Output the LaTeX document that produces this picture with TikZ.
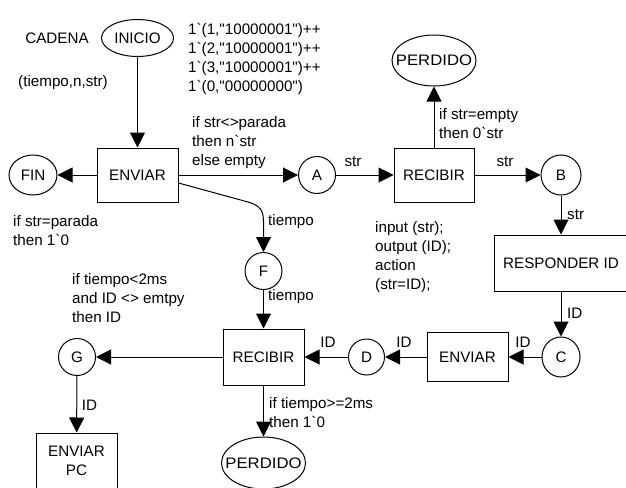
\documentclass[tikz,border=0pt]{standalone}
\usepackage{fontspec}
\setmainfont{Liberation Sans}[Ligatures=TeXOff]
\usetikzlibrary{arrows.meta,calc,shapes.geometric}
\begin{document}
\begin{tikzpicture}[x=1pt,y=-1pt,
  every node/.style={font=\fontsize{15.2}{19}\selectfont, inner sep=0pt},
  place/.style={draw, ellipse, line width=1pt},
  trans/.style={draw, rectangle, line width=1pt, align=center},
  lbl/.style={align=left, anchor=west},
  arc/.style={line width=1pt, -{Triangle[length=15pt,width=15pt]}}]
\clip (0,0) rectangle (626,487);

% places
\node[place,minimum width=72,minimum height=37] (inicio) at (137.5,38) {INICIO};
\node[place,minimum width=48,minimum height=40] (fin) at (33,175) {FIN};
\node[place,minimum width=37,minimum height=37] (a) at (317,175) {A};
\node[place,minimum width=84,minimum height=51] (perd1) at (434,60.5) {\makebox[0pt]{\scalebox{1.1}[1]{PERDIDO}}};
\node[place,minimum width=40,minimum height=40] (b) at (561,175) {B};
\node[place,minimum width=38,minimum height=40] (c) at (561,357) {C};
\node[place,minimum width=36,minimum height=36] (d) at (366.5,357) {D};
\node[place,minimum width=37,minimum height=37] (f) at (263.5,271) {F};
\node[place,minimum width=37,minimum height=37] (g) at (77,357) {G};
\node[place,minimum width=84,minimum height=52] (perd2) at (263.5,463) {\makebox[0pt]{\scalebox{1.1}[1]{PERDIDO}}};

% transitions
\node[trans,minimum width=81,minimum height=54] (env1) at (137.5,175) {ENVIAR};
\node[trans,minimum width=80,minimum height=54] (rec1) at (434,175) {RECIBIR};
\node[trans,minimum width=134,minimum height=56] (resp) at (561,263) {RESPONDER ID};
\node[trans,minimum width=81,minimum height=49] (env2) at (467.5,357) {ENVIAR};
\node[trans,minimum width=81,minimum height=56] (rec2) at (263.5,357) {RECIBIR};
\node[trans,minimum width=81,minimum height=56] (envpc) at (76.5,461) {ENVIAR\\PC};

% arcs
\draw[arc] (inicio) -- (env1);
\draw[arc] (env1) -- (fin);
\draw[arc] (env1) -- (a);
\draw[arc] (a) -- (rec1);
\draw[arc] (rec1) -- (perd1);
\draw[arc] (rec1) -- (b);
\draw[arc] (b) -- (resp);
\draw[arc] (resp) -- (c);
\draw[arc] (c) -- (env2);
\draw[arc] (env2) -- (d);
\draw[arc] (d) -- (rec2);
\draw[arc] ($(env1.east)+(0,8)$) -- (248,202) .. controls (260,205.5) and (263.5,210) .. (263.5,222) -- (f);
\draw[arc] (f) -- (rec2);
\draw[arc] (rec2) -- (g);
\draw[arc] (g) -- (envpc);
\draw[arc] (rec2) -- (perd2);

% inscriptions
\node (cadena) at (57,38) {CADENA};
\node (tipo) at (63,83) {(tiempo,n,str)};
\node[lbl] (marca) at (188,59) {1`(1,"10000001")++\\1`(2,"10000001")++\\1`(3,"10000001")++\\1`(0,"00000000")};
\node[lbl] (gA) at (192,143) {if str<>parada\\then n`str\\else empty};
\node[lbl] (gP1) at (439,123.5) {if str=empty\\then 0`str};
\node (sA) at (353,162) {str};
\node (sB) at (505,162) {str};
\node[lbl] (sR) at (567,215) {str};
\node[lbl] (gFin) at (13,231) {if str=parada\\then 1`0};
\node[lbl] (tF) at (268,222) {tiempo};
\node[lbl] (tR) at (268,297) {tiempo};
\node[lbl] (code) at (375,257.5) {input (str);\\output (ID);\\action\\(str=ID);};
\node[lbl] (idC) at (567,313) {ID};
\node (idE) at (523,342) {ID};
\node (idD) at (404,342) {ID};
\node (idR) at (328,342) {ID};
\node[lbl] (gG) at (72,298) {if tiempo<2ms\\and ID <> emtpy\\then ID};
\node (idG) at (89.5,405) {ID};
\node[lbl] (gP2) at (269,412.5) {if tiempo>=2ms\\then 1`0};
\end{tikzpicture}
\end{document}
